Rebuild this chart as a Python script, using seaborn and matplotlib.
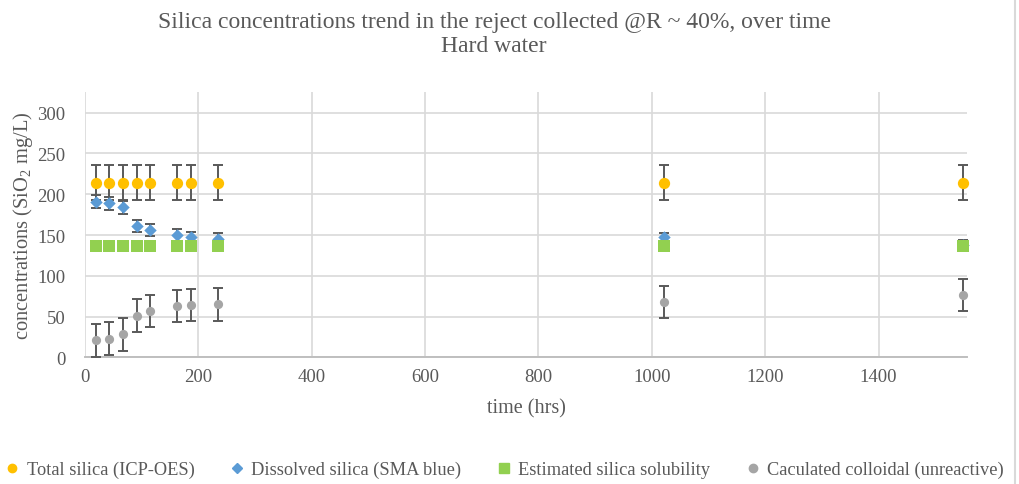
import matplotlib
matplotlib.use("Agg")
import matplotlib.pyplot as plt
from matplotlib.lines import Line2D
import seaborn as sns
import pandas as pd

# Sampling times (hrs)
time_hrs = [19, 43, 67, 91, 115, 163, 187, 235, 1022, 1549]

# Silica concentrations (SiO2 mg/L) and their error-bar half-widths
total_silica = [214, 214, 214, 214, 214, 214, 214, 214, 214, 214]
total_err = [21.5] * 10

dissolved_silica = [191, 189, 184, 161, 156, 150, 147, 145, 147, 138]
dissolved_err = [8, 8, 8, 7, 7, 7, 7, 7, 6, 6]

solubility = [137, 137, 137, 137, 137, 137, 137, 137, 137, 137]

colloidal = [21, 23, 28, 51, 57, 63, 64, 65, 68, 76]
colloidal_err = [20, 20, 20, 20, 20, 20, 20, 20, 19.5, 19.5]

labels = ["Total silica (ICP-OES)", "Dissolved silica (SMA blue)",
          "Estimated silica solubility", "Caculated colloidal (unreactive)"]

sns.set_theme(style="white")
plt.rcParams["font.family"] = ["Liberation Serif", "DejaVu Serif"]
plt.rcParams["mathtext.fontset"] = "custom"
plt.rcParams["mathtext.rm"] = "Liberation Serif"

TEXT = "#595959"
ERR = "#595959"

fig = plt.figure(figsize=(10.19, 4.85), dpi=100)
ax = fig.add_axes([0.0834, 0.2612, 0.8656, 0.5464])

df = pd.DataFrame({
    "time": time_hrs,
    "total": total_silica, "total_err": total_err,
    "dissolved": dissolved_silica, "dissolved_err": dissolved_err,
    "solubility": solubility,
    "colloidal": colloidal, "colloidal_err": colloidal_err,
})

series = [
    ("total", "total_err", "o", "#FFC000", 66, labels[0]),
    ("dissolved", "dissolved_err", "D", "#5B9BD5", 40, labels[1]),
    ("solubility", None, "s", "#92D050", 72, labels[2]),
    ("colloidal", "colloidal_err", "o", "#A5A5A5", 44, labels[3]),
]

z = 3
for col, err, mk, color, size, lab in series:
    if err is not None:
        ax.errorbar(df["time"], df[col], yerr=df[err], fmt="none",
                    ecolor=ERR, elinewidth=1.4, capsize=3.8, capthick=1.4,
                    zorder=z)
    sns.scatterplot(data=df, x="time", y=col, marker=mk, color=color,
                    s=size, linewidth=0, ax=ax, zorder=z + 0.5, label=lab,
                    clip_on=False)
    z += 1

ax.set_xlim(0, 1556)
ax.set_ylim(0, 325)
ax.set_xticks(range(0, 1401, 200))
ax.set_yticks(range(0, 301, 50))
ax.grid(True, color="#D9D9D9", linewidth=1.2)
ax.set_axisbelow(True)
for s in ["top", "right", "left"]:
    ax.spines[s].set_visible(False)
ax.spines["bottom"].set_color("#BFBFBF")
ax.spines["bottom"].set_linewidth(1.4)
ax.tick_params(axis="x", length=0, labelsize=13.5, colors=TEXT, pad=8)
ax.tick_params(axis="y", length=0, labelsize=13.5, colors=TEXT, pad=14)

ax.set_xlabel("time (hrs)", fontsize=14.5, color=TEXT, labelpad=9)
ax.set_ylabel("concentrations (SiO$_2$ mg/L)", fontsize=14.8, color=TEXT,
              labelpad=2)

fig.suptitle("Silica concentrations trend in the reject collected @R ~ 40%, over time\nHard water",
             fontsize=17, color=TEXT, x=0.485, y=0.975, linespacing=1.15)

ax.legend_.remove()
handles = [
    Line2D([], [], marker="o", color="#FFC000", linestyle="none", markersize=6),
    Line2D([], [], marker="D", color="#5B9BD5", linestyle="none", markersize=5),
    Line2D([], [], marker="s", color="#92D050", linestyle="none", markersize=7),
    Line2D([], [], marker="o", color="#A5A5A5", linestyle="none", markersize=6),
]
fig.legend(handles, labels, loc="center", bbox_to_anchor=(0.494, 0.03),
           ncol=4, frameon=False, fontsize=13.2, labelcolor=TEXT,
           handletextpad=0.3, columnspacing=1.8, handlelength=1.0)

# chart-area border on the right
fig.add_artist(Line2D([0.9965, 0.9965], [0.0, 1.0], transform=fig.transFigure,
                      color="#D9D9D9", linewidth=1.5))

fig.savefig("out.png", dpi=100)
